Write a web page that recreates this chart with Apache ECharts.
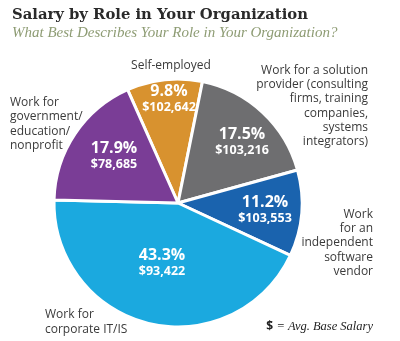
<!DOCTYPE html>
<html><head><meta charset="utf-8">
<script src="https://cdn.jsdelivr.net/npm/echarts@6/dist/echarts.min.js"></script>
<style>html,body{margin:0;padding:0;background:#fff}#c{width:400px;height:341px}</style>
</head><body><div id="c"></div>
<script>
// ---- data ----
const categories = [
  'Self-employed',
  'Work for a solution\nprovider (consulting\nfirms, training\ncompanies,\nsystems\nintegrators)',
  'Work\nfor an\nindependent\nsoftware\nvendor',
  'Work for\ncorporate IT/IS',
  'Work for\ngovernment/\neducation/\nnonprofit'
];
const percents = [9.8, 17.5, 11.2, 43.3, 17.9];
const salaries = ['$102,642', '$103,216', '$103,553', '$93,422', '$78,685'];

// ---- style / layout ----
const colors = ['#D8922F', '#6E6E70', '#1A63AE', '#1BA9DF', '#7A3D96'];
const innerPos = [[169, 99], [242, 142], [265, 210], [162, 263], [114, 156]];
const outerPos = [
  {x: 171, y: 66, align: 'center'},
  {x: 368, y: 106, align: 'right'},
  {x: 373, y: 243, align: 'right'},
  {x: 45, y: 322, align: 'left'},
  {x: 10, y: 124, align: 'left'}
];
const sans = '"Open Sans", "Noto Sans", sans-serif';

const chart = echarts.init(document.getElementById('c'), null, {renderer: 'canvas'});
const data = categories.map((c, i) => ({
  name: c, value: percents[i], salary: salaries[i],
  itemStyle: {color: colors[i]}
}));
chart.setOption({
  animation: false,
  title: {
    text: 'Salary by Role in Your Organization',
    subtext: 'What Best Describes Your Role in Your Organization?',
    left: 7, top: 3, itemGap: 3,
    textStyle: {fontFamily: '"DejaVu Serif", serif', fontWeight: 'bold', fontSize: 14.8, color: '#2a2a2a'},
    subtextStyle: {fontFamily: '"Liberation Serif", serif', fontStyle: 'italic', fontSize: 15, color: '#8E9C74'}
  },
  graphic: [{
    type: 'text', right: 27, top: 320,
    style: {
      rich: {
        d: {fontFamily: sans, fontWeight: 'bold', fontSize: 12, fill: '#222'},
        t: {fontFamily: '"Liberation Serif", serif', fontStyle: 'italic', fontSize: 12.5, fill: '#222'}
      },
      text: '{d|$} {t|= Avg. Base Salary}'
    }
  }],
  series: [
    {
      type: 'pie', center: [178, 203], radius: 124, startAngle: 114, clockwise: true,
      silent: true,
      itemStyle: {borderColor: '#fff', borderWidth: 3},
      label: {
        show: true, position: 'inside',
        formatter: p => '{p|' + p.value.toFixed(1) + '%}\n{s|' + p.data.salary + '}',
        rich: {
          p: {fontFamily: sans, fontWeight: 'bold', fontSize: 16, color: '#fff', lineHeight: 17, align: 'center'},
          s: {fontFamily: sans, fontWeight: 'bold', fontSize: 12.5, color: '#fff', lineHeight: 15, align: 'center'}
        }
      },
      labelLayout: p => ({x: innerPos[p.dataIndex][0], y: innerPos[p.dataIndex][1], align: 'center', verticalAlign: 'middle'}),
      data: data
    },
    {
      type: 'pie', center: [178, 203], radius: 124, startAngle: 114, clockwise: true,
      silent: true,
      itemStyle: {color: 'rgba(0,0,0,0)', borderWidth: 0},
      label: {
        show: true, position: 'outside', formatter: '{b}', overflow: 'none',
        alignTo: 'none', bleedMargin: 0,
        fontFamily: sans, fontSize: 12, color: '#3a3a3a', lineHeight: 14.3
      },
      labelLine: {show: false},
      labelLayout: p => ({x: outerPos[p.dataIndex].x, y: outerPos[p.dataIndex].y, align: outerPos[p.dataIndex].align, verticalAlign: 'middle'}),
      data: categories.map((c, i) => ({name: c, value: percents[i]}))
    }
  ]
});
</script></body></html>
